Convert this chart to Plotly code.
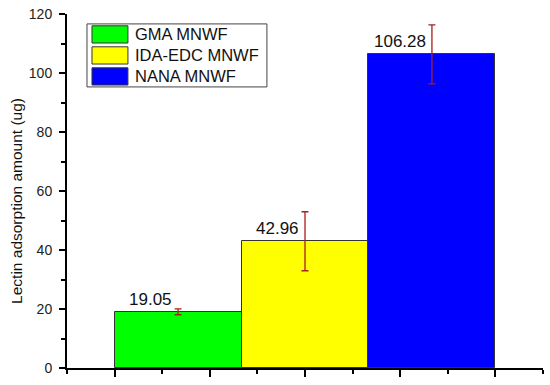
import plotly.graph_objects as go

# datos del grafico
muestras = ['GMA MNWF', 'IDA-EDC MNWF', 'NANA MNWF']
posiciones = [1, 2, 3]
adsorcion = [19.05, 42.96, 106.28]
errores = [1.0, 10.0, 10.0]
etiquetas = ['19.05', '42.96', '106.28']
colores = ['#00FF00', '#FFFF00', '#0000FF']

fuente = 'Liberation Sans, Arial, sans-serif'

fig = go.Figure()

# Barras con barras de error
fig.add_trace(go.Bar(
    x=posiciones, y=adsorcion, width=1,
    marker=dict(color=colores, line=dict(color='#333333', width=1)),
    error_y=dict(type='data', array=errores, visible=True,
                 color='#A52020', thickness=1.3, width=3.5),
    showlegend=False
))

# Etiquetas de valor sobre cada barra
for x, y, t in zip(posiciones, adsorcion, etiquetas):
    fig.add_annotation(x=x, y=y, text=t, showarrow=False,
                       xanchor='right', yanchor='bottom',
                       xshift=-4, yshift=1,
                       font=dict(family=fuente, size=17, color='#111111'))

# Leyenda dibujada a mano (muestras anchas como en Origin)
x0, x1 = 0.042, 0.420
y_top, y_bot = 0.972, 0.794
fig.add_shape(type='rect', xref='paper', yref='paper',
              x0=x0, x1=x1, y0=y_bot, y1=y_top,
              line=dict(color='#444444', width=1), fillcolor='white')
alto = (y_top - y_bot) / 3
for i, (nombre, color) in enumerate(zip(muestras, colores)):
    yc = y_top - alto * (i + 0.5)
    fig.add_shape(type='rect', xref='paper', yref='paper',
                  x0=x0 + 0.0105, x1=x0 + 0.086,
                  y0=yc - alto * 0.41, y1=yc + alto * 0.41,
                  line=dict(color='#333333', width=1), fillcolor=color)
    fig.add_annotation(xref='paper', yref='paper', x=x0 + 0.096, y=yc,
                       text=nombre, showarrow=False,
                       xanchor='left', yanchor='middle',
                       font=dict(family=fuente, size=16.5, color='#111111'))

# Titulo del eje Y como anotacion para ubicarlo igual que el original
fig.add_annotation(xref='paper', yref='paper', x=0, y=0.472,
                   xshift=-50, xanchor='center', yanchor='middle',
                   text='Lectin adsorption amount (ug)', textangle=-90,
                   showarrow=False,
                   font=dict(family=fuente, size=15.5, color='#111111'))

fig.update_layout(
    width=550, height=385,
    margin=dict(l=67, r=7, t=14, b=17, autoexpand=False),
    plot_bgcolor='white', paper_bgcolor='white',
    font=dict(family=fuente, size=14, color='#222222'),
    bargap=0,
)

fig.update_xaxes(
    range=[0.125, 3.875], showgrid=False, zeroline=False,
    showline=True, linecolor='black', linewidth=2,
    tickmode='linear', tick0=0.5, dtick=0.75,
    ticks='outside', ticklen=7, tickwidth=1.5, tickcolor='black',
    showticklabels=False, automargin=False,
    minor=dict(tickmode='linear', tick0=0.125, dtick=0.375,
               ticks='outside', ticklen=4, tickwidth=1.5, tickcolor='black')
)

fig.update_yaxes(
    range=[0, 120], showgrid=False, zeroline=False,
    showline=True, linecolor='black', linewidth=2,
    tickmode='linear', tick0=0, dtick=20,
    ticks='outside', ticklen=6, tickwidth=1.5, tickcolor='black',
    ticklabelstandoff=4, automargin=False,
    tickfont=dict(family=fuente, size=14, color='#222222'),
    minor=dict(tickmode='linear', tick0=0, dtick=10,
               ticks='outside', ticklen=4, tickwidth=1.5, tickcolor='black')
)

# Quitar el margen del body para que la figura ocupe toda la ventana
fig.write_html('out.html', config={'displayModeBar': False},
               post_script="document.body.style.margin='0';")
